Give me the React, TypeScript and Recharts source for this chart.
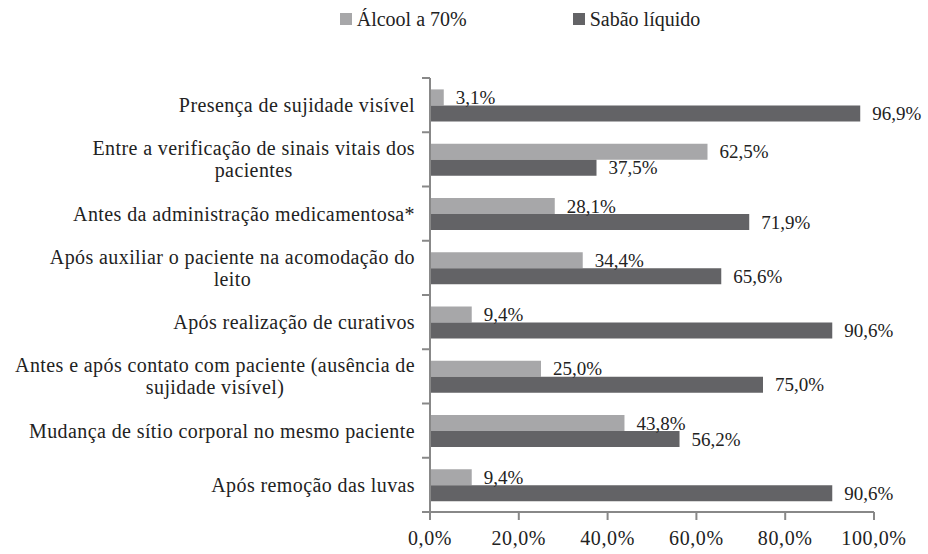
import React from "react";
import { BarChart, Bar, XAxis, YAxis, LabelList, Legend } from "recharts";

const categories = [
  "Presença de sujidade visível",
  "Entre a verificação de sinais vitais dos\npacientes",
  "Antes da administração medicamentosa*",
  "Após auxiliar o paciente na acomodação do\nleito",
  "Após realização de curativos",
  "Antes e após contato com paciente (ausência de\nsujidade visível)",
  "Mudança de sítio corporal no mesmo paciente",
  "Após remoção das luvas",
];
const alcool = [3.1, 62.5, 28.1, 34.4, 9.4, 25.0, 43.8, 9.4];
const sabao = [96.9, 37.5, 71.9, 65.6, 90.6, 75.0, 56.2, 90.6];
const xTicks = [0, 20, 40, 60, 80, 100];

const LIGHT = "#a7a7a9";
const DARK = "#636366";
const AXIS = "#888888";
const FONT = "'Liberation Serif', 'Times New Roman', Tinos, 'Nimbus Roman', 'DejaVu Serif', serif";
const FS = 20;
const LS = 0.4;
const BAND = (512 - 78) / 8;

const data = categories.map((c, i) => ({ name: c, alcool: alcool[i], sabao: sabao[i] }));

let ctx: CanvasRenderingContext2D | null = null;
function measure(s: string) {
  if (!ctx) ctx = document.createElement("canvas").getContext("2d");
  if (!ctx) return s.length * 9;
  ctx.font = `${FS}px ${FONT}`;
  return ctx.measureText(s).width + s.length * LS;
}

const pct = (v: number) => v.toFixed(1).replace(".", ",") + "%";

const catStyle = { fontFamily: FONT, fontSize: FS, letterSpacing: LS };

function CatTick(props: any) {
  const { x, y, payload, index } = props;
  const lines = String(payload.value).split("\n");
  const right = x - 15;
  const top = y - BAND / 2;
  const bottom = y + BAND / 2;
  let texts;
  if (lines.length === 1) {
    texts = (
      <text x={right} y={y} dy={7} textAnchor="end" style={catStyle} fill="#222">
        {lines[0]}
      </text>
    );
  } else {
    const w = Math.max(...lines.map(measure));
    const cx = right - w / 2;
    texts = lines.map((l, i) => (
      <text key={i} x={cx} y={y + (i - (lines.length - 1) / 2) * 22} dy={7} textAnchor="middle"
        style={catStyle} fill="#222">
        {l}
      </text>
    ));
  }
  return (
    <g>
      <line x1={x - 8} x2={x} y1={top} y2={top} stroke={AXIS} strokeWidth={2} />
      {index === categories.length - 1 && (
        <line x1={x - 8} x2={x} y1={bottom} y2={bottom} stroke={AXIS} strokeWidth={2} />
      )}
      {texts}
    </g>
  );
}

function LegendContent() {
  const items = [
    { label: "Álcool a 70%", color: LIGHT },
    { label: "Sabão líquido", color: DARK },
  ];
  return (
    <div style={{ display: "flex", justifyContent: "center", gap: 106, fontFamily: FONT, fontSize: FS, color: "#222", paddingLeft: 112, lineHeight: "22px" }}>
      {items.map((it) => (
        <div key={it.label} style={{ display: "flex", alignItems: "center", gap: 5 }}>
          <span style={{ width: 12, height: 12, background: it.color, display: "inline-block" }} />
          <span>{it.label}</span>
        </div>
      ))}
    </div>
  );
}

export default function App() {
  return (
    <div style={{ position: "absolute", left: 0, top: 0, background: "#fff" }}>
      <BarChart
        width={928}
        height={554}
        data={data}
        layout="vertical"
        margin={{ top: 56, right: 54, bottom: 0, left: 0 }}
        barCategoryGap="21%"
        barGap={0}
      >
        <Legend verticalAlign="top" content={<LegendContent />} wrapperStyle={{ top: 8, left: 0, width: 928 }} />
        <XAxis
          type="number"
          domain={[0, 100]}
          ticks={xTicks}
          tickFormatter={pct}
          height={42}
          axisLine={{ stroke: AXIS, strokeWidth: 2 }}
          tickLine={{ stroke: AXIS, strokeWidth: 2 }}
          tickSize={8}
          tickMargin={11}
          tick={{ style: { fontFamily: FONT, fontSize: 20, letterSpacing: 0.6 }, fill: "#222" }}
        />
        <YAxis
          type="category"
          dataKey="name"
          width={430}
          interval={0}
          tickSize={0}
          tickMargin={0}
          tickLine={false}
          axisLine={{ stroke: AXIS, strokeWidth: 2 }}
          tick={<CatTick />}
        />
        <Bar dataKey="alcool" fill={LIGHT} isAnimationActive={false}>
          <LabelList dataKey="alcool" position="right" offset={12} formatter={pct}
            style={{ fontFamily: FONT, fontSize: 19, fill: "#222" }} />
        </Bar>
        <Bar dataKey="sabao" fill={DARK} isAnimationActive={false}>
          <LabelList dataKey="sabao" position="right" offset={12} formatter={pct}
            style={{ fontFamily: FONT, fontSize: 19, fill: "#222" }} />
        </Bar>
      </BarChart>
    </div>
  );
}
